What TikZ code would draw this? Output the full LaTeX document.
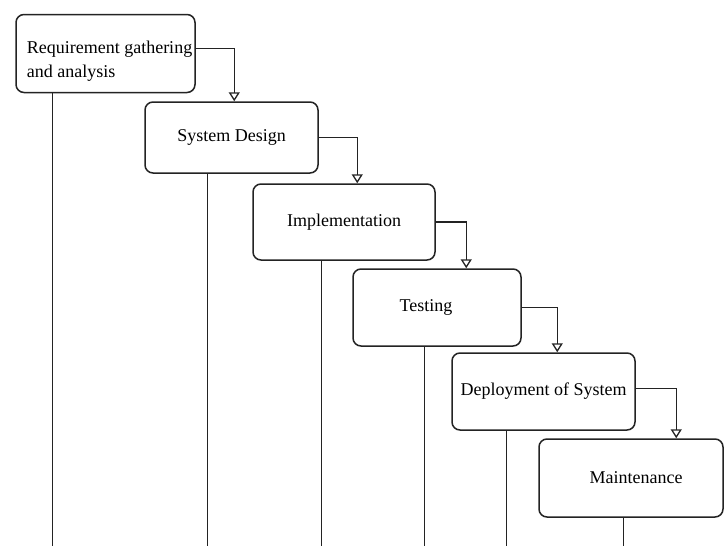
\documentclass[tikz,border=0pt]{standalone}
\usepackage{fontspec}
\setmainfont{Liberation Serif}
\usepackage{tikz}
\usetikzlibrary{arrows.meta}
\definecolor{linegray}{RGB}{35,35,35}

\begin{document}
\begin{tikzpicture}[
  x=1pt, y=-1pt,
  phase/.style={rectangle, rounded corners=8pt, draw=linegray, line width=1.5pt,
                fill=white, inner sep=0pt, text=black,
                font=\fontsize{18}{24}\selectfont},
  flow/.style={-{Triangle[open, length=9pt, width=11pt]}, draw=linegray, line width=1.3pt},
  drop/.style={draw=linegray, line width=1.3pt}
]
\useasboundingbox (0,0) rectangle (728,546);

\node[phase, minimum width=179pt, minimum height=78pt] (req) at (105.5,53.5)
  {\kern8pt\raisebox{-7pt}[\height][\depth]{\begin{tabular}{@{}l@{}}Requirement gathering\\and analysis\end{tabular}}};
\node[phase, minimum width=173pt, minimum height=71pt] (design) at (231.5,137.5) {System Design};
\node[phase, minimum width=182pt, minimum height=76pt] (impl) at (344,222) {Implementation};
\node[phase, minimum width=168pt, minimum height=77pt] (test) at (437,307.5) {Testing\kern22pt};
\node[phase, minimum width=183pt, minimum height=77pt] (deploy) at (543.5,391.5) {Deployment of System};
\node[phase, minimum width=184pt, minimum height=78pt] (maint) at (631,478) {\kern10pt Maintenance};

\coordinate (base) at (0,546);

% steps down the waterfall
\draw[flow] ([yshift=5pt]req.east) -| ([xshift=90pt]design.north west);
\draw[flow] (design.east) -| ([xshift=105pt]impl.north west);
\draw[flow] (impl.east) -| ([xshift=114pt]test.north west);
\draw[flow] (test.east) -| ([xshift=106pt]deploy.north west);
\draw[flow] ([yshift=3pt]deploy.east) -| ([xshift=138pt]maint.north west);

% lines down to the bottom
\foreach \n/\dx in {req/37, design/63, impl/69, test/72, deploy/55, maint/85} {
  \coordinate (d) at ([xshift=\dx pt]\n.south west);
  \draw[drop] (d) -- (d |- base);
}

\end{tikzpicture}
\end{document}
